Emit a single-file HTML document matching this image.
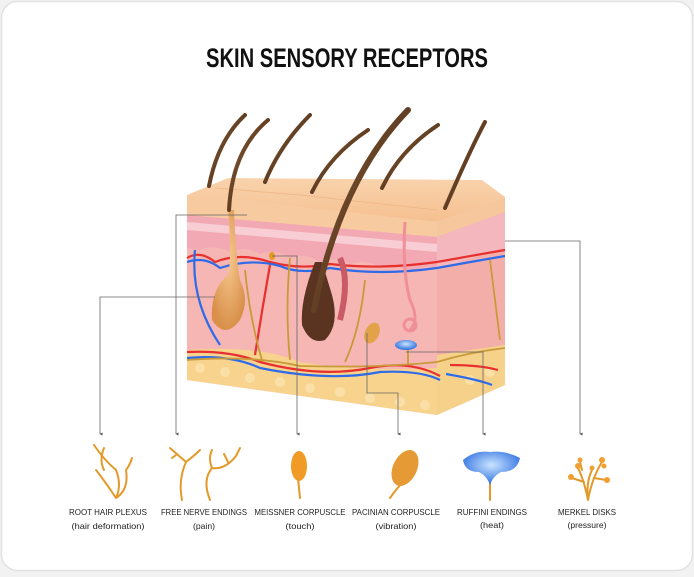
<!DOCTYPE html>
<html><head><meta charset="utf-8"><style>
html,body{margin:0;padding:0;background:#f2f2f2;}
body{width:694px;height:572px;overflow:hidden;font-family:"Liberation Sans",sans-serif;}
</style></head><body>
<svg width="694" height="572" viewBox="0 0 694 572" xmlns="http://www.w3.org/2000/svg">
<defs>
<linearGradient id="top" x1="0" y1="0" x2="0" y2="1"><stop offset="0" stop-color="#f9d3ad"/><stop offset="1" stop-color="#f5c08f"/></linearGradient>
<linearGradient id="hair" x1="0" y1="0" x2="1" y2="1"><stop offset="0" stop-color="#8a5e38"/><stop offset="1" stop-color="#3a200e"/></linearGradient>
<radialGradient id="bulb" cx="0.5" cy="0.4" r="0.6"><stop offset="0" stop-color="#f7c990"/><stop offset="1" stop-color="#d9904a"/></radialGradient>
<radialGradient id="ruf" cx="0.5" cy="0.4" r="0.6"><stop offset="0" stop-color="#c9e4ff"/><stop offset="1" stop-color="#2a6de0"/></radialGradient>
<marker id="ar" viewBox="0 0 6 6" refX="3" refY="5" markerWidth="4" markerHeight="4" orient="auto-start-reverse"><path d="M0,0 L6,0 L3,6z" fill="#555"/></marker>
</defs>
<rect x="1.5" y="1.5" width="691" height="569" rx="16" fill="#fff" stroke="#e2e2e2" stroke-width="1.5"/>
<text x="347" y="67" text-anchor="middle" font-size="27" font-weight="bold" fill="#111" textLength="282" lengthAdjust="spacingAndGlyphs">SKIN SENSORY RECEPTORS</text>

<!-- side face -->
<polygon points="437,222 505,197 505,385 437,415" fill="#f4aeaa"/>
<polygon points="437,222 505,197 505,212 437,237" fill="#f6c79c"/>
<polygon points="437,237 505,212 505,247 437,270" fill="#f3b7bd"/>
<polygon points="437,355 505,345 505,385 437,415" fill="#f6d18a"/>
<!-- front face -->
<polygon points="187,195 437,222 437,415 187,380" fill="#f6b6b3"/>
<polygon points="187,195 437,222 437,237 187,215" fill="#f7ca9f"/>
<path d="M187,215 L437,237 L437,268 Q420,265 410,272 Q395,262 380,268 Q365,258 350,264 Q335,255 320,262 Q305,252 290,258 Q275,248 260,254 Q245,245 230,252 Q215,244 200,250 L187,248 Z" fill="#f2a9b3"/>
<path d="M187,222 L437,244 L437,252 L187,230Z" fill="#f9d6dc" opacity="0.8"/>
<path d="M187,350 Q260,345 300,362 Q360,372 437,368 L437,415 L187,380Z" fill="#f7d38d"/>
<g fill="#fbe3ae" opacity="0.8">
<circle cx="200" cy="368" r="5"/><circle cx="225" cy="372" r="5"/><circle cx="250" cy="378" r="5"/><circle cx="280" cy="382" r="5"/><circle cx="310" cy="388" r="5"/><circle cx="340" cy="392" r="5"/><circle cx="370" cy="398" r="5"/><circle cx="400" cy="402" r="5"/><circle cx="425" cy="405" r="5"/><circle cx="470" cy="380" r="5"/><circle cx="490" cy="372" r="5"/>
</g>
<!-- top surface -->
<polygon points="187,195 228,178 482,180 505,197 437,222" fill="url(#top)"/>
<polyline points="215,188 300,195 437,210" fill="none" stroke="#f0b98a" stroke-width="1"/>

<!-- vessels -->
<g fill="none" stroke-width="2.2">
<path d="M187,258 Q200,250 215,262 Q240,252 270,262 Q300,270 330,264 Q380,270 437,262 Q470,256 505,250" stroke="#e8302f"/>
<path d="M187,262 Q205,256 220,268 Q250,258 280,266 Q300,275 330,268 Q380,276 437,268 Q470,262 505,256" stroke="#2e6bea"/>
<path d="M187,352 Q230,350 260,362 Q320,378 370,368 Q410,360 440,376" stroke="#e8302f"/>
<path d="M187,358 Q230,354 260,368 Q330,382 380,372 Q420,370 440,380" stroke="#2e6bea"/>
<path d="M450,365 Q480,365 498,370" stroke="#e8302f"/>
<path d="M446,374 Q480,380 492,385" stroke="#2e6bea"/>
<path d="M195,250 Q190,300 220,345" stroke="#2e6bea"/>
<path d="M270,265 Q262,310 255,355" stroke="#e8302f"/>
</g>
<!-- nerves -->
<g fill="none" stroke="#c99a3a" stroke-width="1.8">
<path d="M187,360 Q250,355 300,366 Q380,368 437,362 Q470,352 505,348"/>
<path d="M245,270 Q250,320 262,360"/><path d="M290,258 Q285,310 290,360"/>
<path d="M365,280 Q360,330 345,362"/><path d="M490,260 Q495,300 500,340"/>
<path d="M408,345 L408,365"/>
</g>
<!-- hair follicle left -->
<path d="M228,210 Q232,260 228,275 Q210,290 212,320 Q225,340 240,320 Q250,300 240,280 Q236,260 234,210Z" fill="url(#bulb)"/>
<!-- hair follicle center -->
<path d="M315,262 Q300,300 302,325 Q310,345 325,340 Q340,325 332,295 Q326,275 322,262Z" fill="#5a3420"/>
<path d="M340,258 Q350,280 340,320" stroke="#c95a66" stroke-width="6" fill="none"/>
<!-- sweat gland -->
<path d="M405,222 Q402,270 410,300 Q420,320 410,330" stroke="#f08f98" stroke-width="3" fill="none"/>
<circle cx="410" cy="325" r="6" fill="none" stroke="#f08f98" stroke-width="3"/>
<!-- pacinian / ruffini / meissner -->
<ellipse cx="372" cy="333" rx="7" ry="11" transform="rotate(25 372 333)" fill="#e2a24a"/>
<ellipse cx="406" cy="345" rx="11" ry="5" fill="url(#ruf)"/>
<ellipse cx="272" cy="256" rx="3" ry="4" fill="#e59a20"/>
<!-- hairs -->
<g fill="none" stroke="url(#hair)" stroke-linecap="round">
<path d="M209,186 Q218,140 245,115" stroke-width="4"/>
<path d="M229,210 Q232,150 268,120" stroke-width="4"/>
<path d="M265,182 Q280,145 310,115" stroke-width="4"/>
<path d="M312,192 Q330,155 368,130" stroke-width="4"/>
<path d="M314,310 Q340,180 408,110" stroke-width="6"/>
<path d="M382,188 Q400,150 438,125" stroke-width="4"/>
<path d="M445,208 Q470,150 485,122" stroke-width="4"/>
</g>

<!-- leader lines -->
<g fill="none" stroke="#666" stroke-width="0.8">
<polyline points="215,297 100,297 100,434" marker-end="url(#ar)"/>
<polyline points="247,215 176,215 176,434" marker-end="url(#ar)"/>
<polyline points="272,256 297,256 297,434" marker-end="url(#ar)"/>
<polyline points="367,333 367,393 398,393 398,434" marker-end="url(#ar)"/>
<polyline points="406,352 483,352 483,434" marker-end="url(#ar)"/>
<polyline points="505,241 580,241 580,434" marker-end="url(#ar)"/>
</g>

<!-- icons -->
<g fill="none" stroke="#e39a2a" stroke-width="2" stroke-linecap="round">
<path d="M116,498 Q104,480 96,470 M116,498 Q122,485 116,470 Q104,460 94,445 M104,470 Q99,460 104,448 M116,498 Q129,490 126,470 Q130,465 132,458"/>
<path d="M182,500 Q178,480 186,462 Q178,455 170,448 M186,462 Q195,455 200,450 M176,455 L172,458 M210,500 Q202,480 212,468 Q225,470 236,456 M212,468 Q208,458 212,450 M236,456 L240,448 M228,462 L224,454"/>
<path d="M300,498 L298,478"/>
<path d="M390,498 Q397,488 403,482"/>
<path d="M490,500 L490,470"/>
<path d="M588,500 Q584,480 578,468 M588,500 Q592,478 602,462 M588,500 Q586,482 592,470 M584,482 L572,478 M594,478 L606,480 M582,470 L580,462"/>
</g>
<ellipse cx="299" cy="466" rx="8" ry="15" fill="#ef9b25"/>
<ellipse cx="405" cy="468" rx="12" ry="19" transform="rotate(25 405 468)" fill="#e59a35"/>
<path d="M463,460 Q475,450 490,452 Q505,450 520,458 Q517,472 501,472 Q493,476 490,485 Q487,476 479,472 Q465,472 463,460Z" fill="url(#ruf)"/>
<g fill="#f0a030"><circle cx="578" cy="466" r="3"/><circle cx="602" cy="460" r="3"/><circle cx="592" cy="468" r="2.5"/><circle cx="571" cy="477" r="3"/><circle cx="607" cy="480" r="3"/><circle cx="580" cy="460" r="2.5"/><circle cx="604" cy="466" r="2.5"/></g>

<!-- labels -->
<g font-size="8.5" fill="#222" text-anchor="middle" lengthAdjust="spacingAndGlyphs">
<text x="108" y="515" textLength="78" lengthAdjust="spacingAndGlyphs">ROOT HAIR PLEXUS</text><text x="108" y="529" textLength="73" lengthAdjust="spacingAndGlyphs">(hair deformation)</text>
<text x="204" y="515" textLength="86" lengthAdjust="spacingAndGlyphs">FREE NERVE ENDINGS</text><text x="204" y="529" textLength="22" lengthAdjust="spacingAndGlyphs">(pain)</text>
<text x="300" y="515" textLength="91" lengthAdjust="spacingAndGlyphs">MEISSNER CORPUSCLE</text><text x="300" y="529" textLength="29" lengthAdjust="spacingAndGlyphs">(touch)</text>
<text x="396" y="515" textLength="88" lengthAdjust="spacingAndGlyphs">PACINIAN CORPUSCLE</text><text x="396" y="529" textLength="41" lengthAdjust="spacingAndGlyphs">(vibration)</text>
<text x="492" y="515" textLength="70" lengthAdjust="spacingAndGlyphs">RUFFINI ENDINGS</text><text x="492" y="528" textLength="24" lengthAdjust="spacingAndGlyphs">(heat)</text>
<text x="587" y="515" textLength="58" lengthAdjust="spacingAndGlyphs">MERKEL DISKS</text><text x="587" y="528" textLength="39" lengthAdjust="spacingAndGlyphs">(pressure)</text>
</g>
</svg>
</body></html>
